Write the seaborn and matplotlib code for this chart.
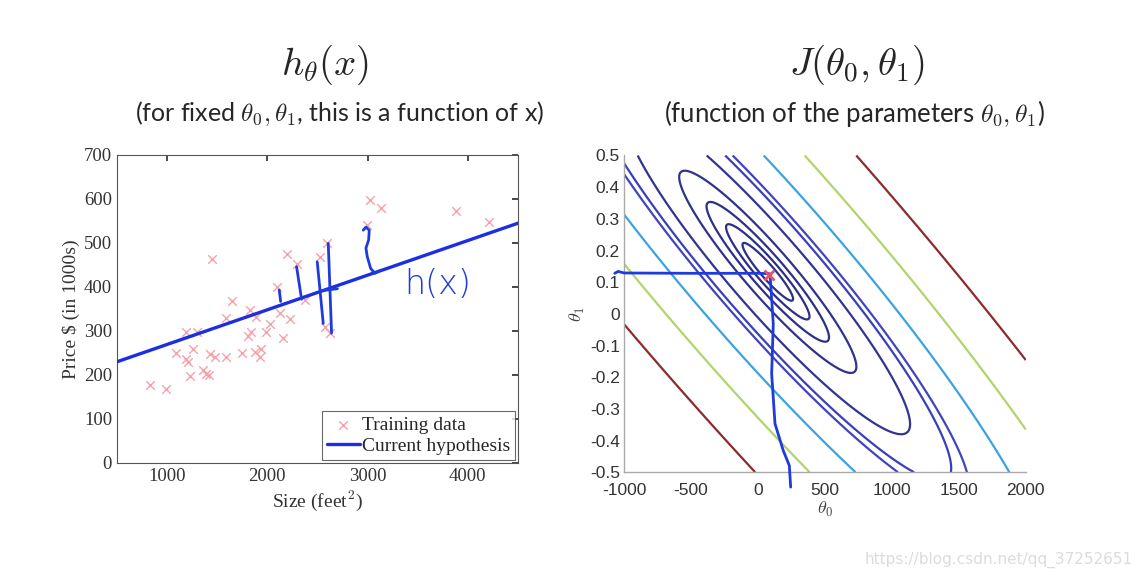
"""
Linear regression: hypothesis h(x) next to the cost contour J(theta0, theta1)
"""
import matplotlib.pyplot as plt
import numpy as np
import seaborn as sns

# training data (house size in feet^2, price in $1000s)
size_sqft = [832, 992, 1085, 1185, 1192, 1208, 1232, 1258, 1298, 1358, 1391, 1418,
             1431, 1451, 1474, 1591, 1584, 1650, 1750, 1807, 1823, 1840, 1873, 1890,
             1923, 1940, 1983, 2030, 2096, 2123, 2156, 2196, 2229, 2296, 2372, 2522,
             2598, 2572, 2628, 2994, 3027, 3137, 3885, 4207]
price_k = [178, 168, 249, 297, 237, 230, 197, 260, 297, 212, 203, 199,
           248, 463, 241, 241, 330, 368, 251, 288, 347, 297, 253, 332,
           241, 259, 297, 315, 400, 341, 285, 474, 328, 452, 370, 469,
           500, 309, 296, 541, 598, 579, 573, 548]

# current hypothesis drawn on the left (theta0, theta1)
hyp_theta = [190.6, 0.0787]
hyp_x = [500, 4500]

# hand-drawn ink on the left panel
ink_left = [
    ([2119, 2133], [393, 367]),
    ([2292, 2342], [446, 372]),
    ([2498, 2558], [457, 317]),
    ([2608, 2641], [499, 295]),
    ([2560, 2700], [392, 396]),
    ([2957, 2984, 3017, 3011, 2984, 2997, 3031, 3074, 3124],
     [529, 536, 529, 507, 488, 469, 442, 431, 437]),
]

# points read on each contour line, used to pick the level of that line
level_t0 = [301, -60, 438, -172, 600, -296, 836, -458, 1134,
            1545, -930, -209,
            1122, -1000,
            774, 1893, 40, -1000,
            438, 338, -1000, 2000,
            15, 724, -1000, 2000]
level_t1 = [0.032, 0.2, -0.037, 0.247, -0.105, 0.311, -0.221, 0.389, -0.358,
            -0.49, 0.5, 0.5,
            -0.5, 0.42,
            -0.5, -0.5, 0.5, 0.30,
            -0.5, 0.5, 0.14, -0.352,
            -0.5, 0.5, -0.04, -0.13]
level_id = [0, 0, 1, 1, 2, 2, 3, 3, 4,
            5, 5, 5,
            6, 6,
            7, 7, 7, 7,
            8, 8, 8, 8,
            9, 9, 9, 9]
level_colors = ["#2d2f86", "#2d2f86", "#2e3088", "#30328c", "#323490",
                "#3a3fba", "#4045bd", "#3ba3e0", "#b3d36c", "#8c2b2e"]

# gradient descent sketch on the right
path_h_t0 = [-1070, -1045, -1000, -500, 0, 82]
path_h_t1 = [0.128, 0.134, 0.129, 0.128, 0.128, 0.127]
path_v_t0 = [90, 114, 102, 127, 189, 234, 244]
path_v_t1 = [0.126, -0.032, -0.189, -0.347, -0.432, -0.479, -0.547]
best_point = (82, 0.123)

x_ticks = [1000, 2000, 3000, 4000]
y_ticks = [0, 100, 200, 300, 400, 500, 600, 700]
t0_ticks = [-1000, -500, 0, 500, 1000, 1500, 2000]
t1_ticks = [-0.5, -0.4, -0.3, -0.2, -0.1, 0, 0.1, 0.2, 0.3, 0.4, 0.5]
t1_labels = ["-0.5", "-0.4", "-0.3", "-0.2", "-0.1", "0", "0.1", "0.2", "0.3", "0.4", "0.5"]

sns.set_theme(style="white")
plt.rcParams["mathtext.fontset"] = "cm"
plt.rcParams["axes.unicode_minus"] = False
plt.rcParams["font.family"] = ["DejaVu Sans"]

SERIF = "Liberation Serif"
INK = "#1f3bdc"

fig = plt.figure(figsize=(11.41, 5.78), dpi=100)
ax1 = fig.add_axes([0.1025, 0.199, 0.3514, 0.533])
ax2 = fig.add_axes([0.547, 0.183, 0.352, 0.548])

# ---- left panel: data and hypothesis
sns.scatterplot(x=size_sqft, y=price_k, marker="x", color="#f3a3ab", s=38,
                linewidth=1.0, ax=ax1, label="Training data", zorder=2)
hyp_y = [hyp_theta[0] + hyp_theta[1] * x for x in hyp_x]
sns.lineplot(x=hyp_x, y=hyp_y, color="#1c2ee0", linewidth=2.4, ax=ax1,
             label="Current hypothesis", zorder=3)
for xs, ys in ink_left:
    ax1.plot(xs, ys, color=INK, linewidth=2.0, solid_capstyle="round", zorder=4)
ax1.text(3700, 405, "h(x)", color=INK, fontsize=24, ha="center", va="center",
         family="DejaVu Sans", fontweight="light")

ax1.set_xlim(500, 4500)
ax1.set_ylim(0, 700)
ax1.set_xticks(x_ticks)
ax1.set_yticks(y_ticks)
ax1.tick_params(direction="in", length=4, top=True, right=True, labelsize=13.5,
                colors="#333333", labelcolor="#333333")
for lab in ax1.get_xticklabels() + ax1.get_yticklabels():
    lab.set_family(SERIF)
for sp in ax1.spines.values():
    sp.set_color("#555555")
    sp.set_linewidth(0.8)
ax1.set_xlabel("Size (feet$^2$)", family=SERIF, fontsize=14, color="#333333", labelpad=3)
ax1.set_ylabel(r"Price \$ (in 1000s)", family=SERIF, fontsize=14, color="#333333", labelpad=3)
leg = ax1.legend(loc="lower right", frameon=True, fancybox=False, borderaxespad=0.15,
                 prop={"family": SERIF, "size": 14}, handlelength=1.7,
                 handletextpad=0.1, borderpad=0.25, labelspacing=0.2)
leg.get_frame().set_edgecolor("#444444")
leg.get_frame().set_linewidth(0.8)

# ---- right panel: cost contours
t0_grid, t1_grid = np.meshgrid(np.linspace(-1000, 2000, 400), np.linspace(-0.5, 0.5, 400))
xs = np.asarray(size_sqft, dtype=float)
ys = np.asarray(price_k, dtype=float)


def cost(t0, t1):
    resid = np.asarray(t0)[..., None] + np.asarray(t1)[..., None] * xs - ys
    return (resid ** 2).mean(axis=-1) / 2


J = cost(t0_grid, t1_grid)
pt_cost = cost(np.array(level_t0, float), np.array(level_t1, float))
ids = np.array(level_id)
levels = [pt_cost[ids == k].mean() for k in range(len(level_colors))]
order = np.argsort(levels)
ax2.contour(t0_grid, t1_grid, J, levels=[levels[i] for i in order],
            colors=[level_colors[i] for i in order], linewidths=1.6)

sns.lineplot(x=path_h_t0, y=path_h_t1, color=INK, linewidth=2.0, ax=ax2,
             sort=False, clip_on=False, zorder=4)
sns.lineplot(x=path_v_t0, y=path_v_t1, color=INK, linewidth=2.0, ax=ax2,
             sort=False, clip_on=False, zorder=4)
ax2.plot(*best_point, marker="x", color="#e8506a", markersize=7, mew=2, zorder=5)

ax2.set_xlim(-1000, 2000)
ax2.set_ylim(-0.5, 0.5)
ax2.set_xticks(t0_ticks)
ax2.set_yticks(t1_ticks)
ax2.set_yticklabels(t1_labels)
ax2.tick_params(direction="in", length=4, labelsize=12.5, colors="#999999",
                labelcolor="#333333")
ax2.tick_params(axis="x", pad=8)
ax2.tick_params(axis="y", pad=3)
for lab in ax2.get_xticklabels() + ax2.get_yticklabels():
    lab.set_family("Liberation Sans")
for side in ["top", "right"]:
    ax2.spines[side].set_visible(False)
for side in ["left", "bottom"]:
    ax2.spines[side].set_color("#aaaaaa")
    ax2.spines[side].set_linewidth(1.0)
ax2.set_xlabel(r"$\theta_0$", fontsize=13, color="#444444", labelpad=1)
ax2.set_ylabel(r"$\theta_1$", fontsize=13, color="#444444", labelpad=2)

# ---- titles
fig.text(0.285, 0.887, r"$h_\theta(x)$", ha="center", va="center", fontsize=28)
fig.text(0.751, 0.887, r"$J(\theta_0,\theta_1)$", ha="center", va="center", fontsize=28)
fig.text(0.298, 0.804, r"(for fixed $\theta_0, \theta_1$, this is a function of x)",
         ha="center", va="center", fontsize=18, family="Lato")
fig.text(0.749, 0.804, r"(function of the parameters $\theta_0, \theta_1$)",
         ha="center", va="center", fontsize=18.5, family="Lato")
fig.text(0.993, 0.031, "https://blog.csdn.net/qq_37252651", ha="right", va="center",
         fontsize=11, color="#dcdcdc")

plt.savefig("out.png", dpi=100)
plt.close()
